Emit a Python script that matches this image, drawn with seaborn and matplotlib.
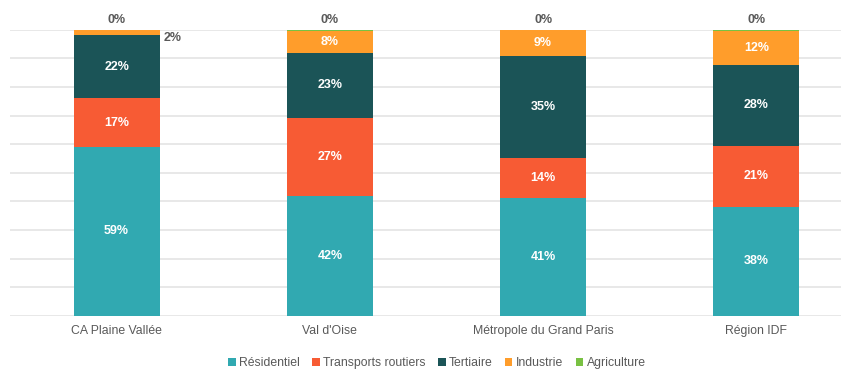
import numpy as np
import pandas as pd
import matplotlib
matplotlib.use("Agg")
import matplotlib.pyplot as plt
import seaborn as sns
from matplotlib.patches import Patch

# Energy consumption share by sector (%)
territoires = ["CA Plaine Vallée", "Val d'Oise", "Métropole du Grand Paris", "Région IDF"]
secteurs = ["Résidentiel", "Transports routiers", "Tertiaire", "Industrie", "Agriculture"]
residentiel = [59.0, 42.0, 41.2, 38.0]
transports = [17.0, 27.0, 14.1, 21.4]
tertiaire = [22.0, 23.0, 35.4, 28.3]
industrie = [2.0, 7.7, 9.2, 12.0]
agriculture = [0.0, 0.3, 0.1, 0.3]
couleurs = ["#31A9B1", "#F75B34", "#1B5457", "#FF9D2B", "#79C143"]

series = [residentiel, transports, tertiaire, industrie, agriculture]
df = pd.DataFrame({s: v for s, v in zip(secteurs, series)}, index=territoires)
cum = df.cumsum(axis=1)

sns.set_style("white")
plt.rcParams["font.family"] = ["Liberation Sans", "DejaVu Sans"]

gris = "#595959"
fig = plt.figure(figsize=(8.41, 3.69), dpi=100)
ax = fig.add_axes([10 / 841, 53.3 / 369, 853 / 841, 286 / 369])

# stacked bars: draw cumulative totals from the top layer down
for i in reversed(range(len(secteurs))):
    sns.barplot(x=territoires, y=cum[secteurs[i]].values, order=territoires,
                color=couleurs[i], saturation=1, width=0.403, ax=ax,
                errorbar=None, linewidth=0, edgecolor="none", zorder=2)

ax.set_xlim(-0.5, 3.5)
ax.set_ylim(0, 100)
ax.set_yticks(np.arange(0, 101, 10))
ax.set_yticklabels([])
ax.yaxis.grid(True, color="#E2E2E2", lw=1.1)
ax.set_axisbelow(True)
for sp in ax.spines.values():
    sp.set_visible(False)
ax.set_xlabel("")
ax.set_ylabel("")
ax.tick_params(axis="both", length=0)
ax.tick_params(axis="x", pad=7, labelsize=8.8, labelcolor=gris)

# value labels
lab_size = 9.0
for j, terr in enumerate(territoires):
    for i, s in enumerate(secteurs):
        v = df.loc[terr, s]
        top = cum.loc[terr, s]
        txt = f"{v:.0f}%"
        if s == "Agriculture":
            ax.text(j, cum.loc[terr].iloc[-1] + 3.3, txt, ha="center", va="center",
                    fontsize=lab_size, fontweight="bold", color=gris)
        elif v >= 5:
            ax.text(j, top - v / 2, txt, ha="center", va="center",
                    fontsize=lab_size, fontweight="bold", color="white")
        else:
            ax.text(j + 0.22, top - v / 2 - 1.9, txt, ha="left", va="center",
                    fontsize=lab_size, fontweight="bold", color=gris)

handles = [Patch(facecolor=c, edgecolor="none") for c in couleurs]
fig.legend(handles, secteurs, loc="center", bbox_to_anchor=(437 / 841, 1 - 363 / 369),
           ncol=5, frameon=False, fontsize=8.8, labelcolor=gris,
           handlelength=0.6, handleheight=0.6, handletextpad=0.3,
           columnspacing=1.0)

fig.savefig("out.png", dpi=100)
